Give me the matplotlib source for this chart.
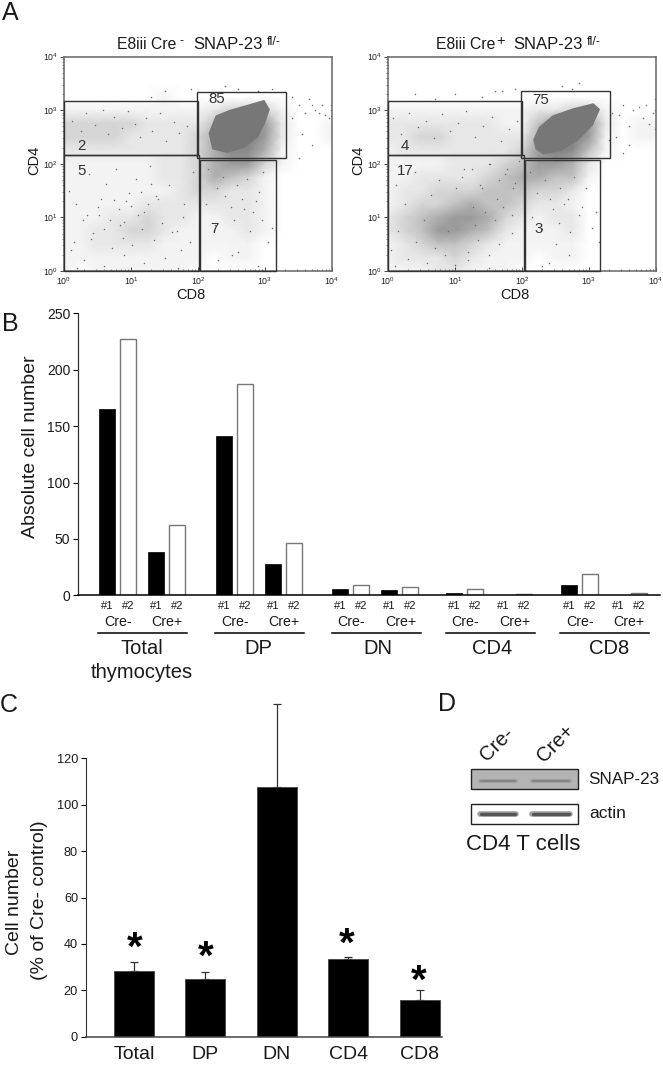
import numpy as np
import matplotlib
matplotlib.use("Agg")
import matplotlib.pyplot as plt
from matplotlib.colors import LinearSegmentedColormap
from matplotlib.patches import Rectangle, Polygon
from matplotlib.ticker import LogLocator, NullFormatter, LogFormatterMathtext

plt.rcParams['font.family'] = ['Liberation Sans', 'DejaVu Sans']
plt.rcParams['mathtext.fontset'] = 'custom'
plt.rcParams['mathtext.rm'] = 'Liberation Sans'
plt.rcParams['mathtext.default'] = 'rm'

W, H = 663, 1065

# ---------- Panel B values ----------
groups_b = ["Total\nthymocytes", "DP", "DN", "CD4", "CD8"]
mice = ["#1", "#2", "#1", "#2"]
cre = ["Cre-", "Cre+"]
total_vals = [165, 227, 38, 62]
dp_vals = [141, 187, 28, 46]
dn_vals = [6, 9, 5, 7]
cd4_vals = [2, 6, 0, 1]
cd8_vals = [9, 19, 0, 2]
yticks_b = [0, 50, 100, 150, 200, 250]

# ---------- Panel C values ----------
cats_c = ["Total", "DP", "DN", "CD4", "CD8"]
pct_vals = [28.5, 25, 107.5, 33.5, 16]
pct_err_top = [32, 28, 143.5, 34.5, 20]
yticks_c = [0, 20, 40, 60, 80, 100, 120]

# ---------- Panel A: estimated event density (0-9), decades of CD8 in columns
# 0..4 by 0.25, decades of CD4 in rows from 3.5 down to 0 by 0.25 ----------
density_minus = [
    [0,0,0,0,0,0,0,0,0,0,0,0,0,0,0,0,0],
    [0,0,0,0,0,0,1,0,0,0,0,0,0,0,0,0,0],
    [1,1,1,1,1,1,1,1,1,2,3,3,3,1,0,0,0],
    [3,3,3,3,3,2,2,2,2,4,6,7,6,2,0,0,1],
    [3,3,3,3,2,2,2,2,3,5,7,8,6,2,0,0,1],
    [2,2,2,2,2,2,2,2,3,5,7,7,5,1,0,0,0],
    [1,1,1,1,1,1,2,2,3,5,6,6,3,1,0,0,0],
    [1,1,1,1,1,1,2,2,3,5,4,3,1,0,0,0,0],
    [1,1,1,1,1,1,1,2,3,3,2,2,1,0,0,0,0],
    [1,1,1,1,1,2,2,2,2,2,2,2,1,0,0,0,0],
    [1,1,1,2,2,3,2,2,1,1,2,2,1,0,0,0,0],
    [1,1,2,2,3,3,2,1,1,1,1,2,1,0,0,0,0],
    [1,1,2,2,2,2,1,1,1,1,1,1,0,0,0,0,0],
    [1,1,1,1,1,1,1,1,1,0,1,1,0,0,0,0,0],
    [1,0,1,1,1,1,1,1,0,0,0,0,0,0,0,0,0],
]
density_plus = [
    [0,0,0,0,0,0,0,0,0,0,0,0,0,0,0,0,0],
    [0,0,0,0,0,0,0,0,0,0,0,0,0,0,0,0,0],
    [1,1,1,1,1,1,1,1,1,2,2,3,3,1,0,0,0],
    [2,2,2,2,2,2,2,1,1,4,6,7,6,2,0,1,1],
    [2,2,3,3,2,2,2,2,2,5,7,8,6,1,0,1,1],
    [1,2,2,2,2,2,2,2,3,6,8,7,4,1,0,0,0],
    [1,1,1,1,2,2,2,3,4,6,6,5,2,0,0,0,0],
    [1,1,2,2,2,2,3,4,5,5,4,4,1,0,0,0,0],
    [1,2,2,3,3,3,4,4,4,3,3,2,0,0,0,0,0],
    [1,2,3,3,4,5,4,4,3,2,2,1,0,0,0,0,0],
    [2,3,4,5,6,6,5,3,2,1,2,2,0,0,0,0,0],
    [2,3,4,6,6,5,4,2,1,1,1,2,0,0,0,0,0],
    [1,2,3,4,4,3,2,1,1,1,1,1,0,0,0,0,0],
    [1,2,2,2,3,2,1,1,1,0,1,1,0,0,0,0,0],
    [1,1,1,2,2,1,1,1,0,0,0,0,0,0,0,0,0],
]
dp_cloud_minus_x = [2.18, 2.28, 2.48, 2.73, 2.98, 3.05, 2.98, 2.88, 2.68, 2.43, 2.23]
dp_cloud_minus_y = [2.57, 2.88, 2.98, 3.07, 3.16, 3.01, 2.76, 2.51, 2.32, 2.23, 2.29]
dp_cloud_plus_x = [2.19, 2.27, 2.47, 2.77, 3.06, 3.14, 3.04, 2.82, 2.57, 2.32, 2.22]
dp_cloud_plus_y = [2.45, 2.67, 2.88, 3.01, 3.10, 3.01, 2.73, 2.45, 2.26, 2.20, 2.29]

# Individually visible events (decades of CD8, CD4)
sparse_minus_x = [3.4,3.5,3.6,3.65,3.7,3.75,3.8,3.85,3.9,3.95,3.98,3.98,3.5,3.7,3.55,3.4,1.5,1.9,1.3,2.2,2.6,2.9,3.1,2.4,0.3,0.6,0.1,1.2,1.5,1.7,2.3,2.6,2.9,0.2,0.9,0.4,1.75,2.5,3.05,3.1,
    0.12,0.25,0.33,0.47,0.58,0.66,0.74,0.86,0.95,1.06,1.13,1.22,1.31,1.43,1.52,1.64,1.72,1.83,
    0.08,0.18,0.37,0.52,0.63,0.77,0.83,0.97,1.08,1.19,1.28,1.41,1.56,1.68,1.79,1.92,
    0.15,0.28,0.44,0.55,0.71,0.88,1.02,1.16,1.35,1.47,1.61,1.77,1.88,
    2.15,2.28,2.37,2.49,2.58,2.66,2.73,2.82,2.91,2.97,2.12,2.25,2.41,2.54,2.69,2.78,2.87,2.95,
    0.35,0.5,0.68,0.82,0.93,1.1,1.25,1.38,0.6,0.75,0.9,1.0,1.15,1.3]
sparse_minus_y = [3.25,3.1,2.95,3.2,3.1,3.0,2.95,3.1,2.9,2.85,3.0,3.1,2.1,2.35,2.55,2.85,3.35,3.4,3.25,3.3,3.4,3.35,3.4,3.45,0.2,0.1,0.4,0.15,0.25,0.05,0.2,0.35,0.1,0.05,0.3,0.6,0.4,0.3,0.55,0.8,
    2.8,2.62,2.95,2.72,3.0,2.55,2.88,2.66,2.98,2.74,2.5,2.85,2.62,2.95,2.42,2.78,2.58,2.7,
    1.5,1.25,1.8,1.05,1.62,1.9,0.85,1.45,1.72,1.1,1.95,1.35,1.6,0.75,1.25,1.85,
    0.55,0.95,0.7,1.35,0.42,0.62,0.48,0.78,0.58,0.9,0.72,1.0,0.55,
    1.9,1.55,1.75,1.2,1.6,1.35,1.72,1.1,1.48,1.85,1.25,0.85,1.4,0.95,1.15,0.75,1.3,0.95,
    1.05,1.2,0.95,1.15,1.3,1.05,1.25,1.4,0.78,1.32,0.92,1.22,1.48,1.62]
sparse_plus_x = [3.45,3.5,3.6,3.65,3.75,3.8,3.85,3.9,3.95,3.98,3.98,3.4,3.5,3.6,3.3,3.35,1.0,1.6,1.9,2.2,2.6,2.75,2.85,0.4,0.7,1.4,1.7,2.4,2.7,3.05,3.15,3.1,2.5,2.3,1.5,1.2,0.1,3.98,
    0.08,0.2,0.32,0.45,0.57,0.68,0.8,0.93,1.05,1.17,1.3,1.42,1.55,1.68,1.8,1.93,
    0.12,0.26,0.4,0.53,0.64,0.76,0.89,1.01,1.14,1.27,1.38,1.5,1.63,1.75,1.87,
    0.05,0.15,0.3,0.42,0.58,0.7,0.85,1.0,1.2,1.35,1.5,1.65,1.85,
    2.12,2.22,2.35,2.46,2.57,2.68,2.78,2.9,2.15,2.3,2.42,2.55,2.62,2.72,2.85,2.95,
    1.1,1.25,1.4,1.52,1.66,1.78,1.9,1.95,1.3,1.45,1.6,1.72,1.85]
sparse_plus_y = [2.9,3.1,2.7,3.0,3.05,2.85,3.1,2.75,2.95,3.2,2.65,2.5,2.2,2.35,2.45,2.95,3.3,3.35,3.4,3.3,3.45,3.4,3.5,3.3,3.2,3.25,3.35,0.15,0.3,0.8,0.55,1.1,0.5,0.1,0.05,0.2,0.1,3.0,
    2.85,2.55,2.95,2.68,2.8,2.48,2.92,2.62,2.76,2.98,2.5,2.7,2.88,2.42,2.65,2.8,
    1.6,1.25,1.85,0.95,1.42,1.7,0.75,1.55,1.9,1.2,1.6,2.0,1.35,1.8,1.55,
    0.4,0.75,0.22,0.55,0.15,0.42,0.3,0.12,0.35,0.58,0.3,0.5,0.7,
    1.85,1.45,1.7,1.15,1.55,1.35,1.75,1.2,1.0,0.78,1.35,0.9,1.25,0.72,1.05,1.55,
    1.75,1.9,1.55,2.0,1.7,1.9,1.65,2.05,0.85,1.1,0.95,1.2,1.05]

gates_minus = {"cd4": (1, 100, 146, 1450), "dp": (98, 2050, 128, 2200),
               "dn": (1, 102, 1, 146), "cd8": (108, 1450, 1, 118)}
gates_plus = {"cd4": (1, 100, 146, 1450), "dp": (98, 2050, 128, 2250),
              "dn": (1, 108, 1, 146), "cd8": (112, 1450, 1, 118)}
labels_minus = [("85", 141, 1580), ("2", 1.6, 217), ("5", 1.6, 74), ("7", 151, 6.1)]
labels_plus = [("75", 141, 1540), ("4", 1.56, 217), ("17", 1.37, 74), ("3", 151, 6.1)]


def add_axes_px(left, top, right, bottom):
    return fig.add_axes([left / W, 1 - bottom / H, (right - left) / W, (bottom - top) / H])


def txt(x, y, s, **kw):
    kw.setdefault('ha', 'center')
    kw.setdefault('va', 'center')
    kw.setdefault('color', '#1a1a1a')
    fig.text(x / W, 1 - y / H, s, **kw)


fig = plt.figure(figsize=(W / 100, H / 100), dpi=100, facecolor='white')

cmap = LinearSegmentedColormap.from_list("flow", ["#ffffff", "#e4e4e4", "#b8b8b8", "#8c8c8c", "#777777"], N=256)


def flow_panel(left, density, cx, cy, sx, sy, gates, labels):
    ax = add_axes_px(left, 56.5, left + 268, 271)
    ax.set_xscale('log')
    ax.set_yscale('log')
    nodes_x = 10.0 ** np.arange(0, 4.01, 0.25)
    nodes_y = 10.0 ** np.arange(3.5, -0.01, -0.25)
    ax.pcolormesh(nodes_x, nodes_y, np.array(density) / 9.0, shading='gouraud',
                  cmap=cmap, vmin=0, vmax=1, rasterized=True, zorder=1)
    ax.add_patch(Polygon(np.column_stack([10.0 ** np.array(cx), 10.0 ** np.array(cy)]),
                         closed=True, fc='#777777', ec='#777777', lw=2, zorder=2))
    ax.scatter(10.0 ** np.array(sx), 10.0 ** np.array(sy), s=1.2, c='#707070', lw=0, zorder=3)
    ax.set_xlim(1, 1e4)
    ax.set_ylim(1, 1e4)
    for g in gates.values():
        x0, x1, y0, y1 = g
        ax.add_patch(Rectangle((x0, y0), x1 - x0, y1 - y0, fill=False, ec='#333333', lw=1.0, zorder=4, clip_on=False))
    for s, x, y in labels:
        ax.text(x, y, s, fontsize=10.8, color='#333333', ha='left', va='center', zorder=5)
    for sp in ax.spines.values():
        sp.set_color('#666666')
        sp.set_linewidth(1.1)
    for axis in (ax.xaxis, ax.yaxis):
        axis.set_major_locator(LogLocator(base=10, numticks=6))
        axis.set_minor_locator(LogLocator(base=10, subs=np.arange(2, 10) * 0.1, numticks=6))
        axis.set_major_formatter(LogFormatterMathtext())
        axis.set_minor_formatter(NullFormatter())
    ax.tick_params(axis='both', which='major', labelsize=6.3, length=3, width=0.7, color='#444444', labelcolor='#222222')
    ax.tick_params(axis='both', which='minor', length=1.6, width=0.5, color='#444444')
    ax.tick_params(axis='x', which='both', direction='in', top=False, pad=3)
    ax.tick_params(axis='y', which='both', direction='out', right=False, pad=1.5)
    return ax


flow_panel(64, density_minus, dp_cloud_minus_x, dp_cloud_minus_y, sparse_minus_x, sparse_minus_y, gates_minus, labels_minus)
flow_panel(388, density_plus, dp_cloud_plus_x, dp_cloud_plus_y, sparse_plus_x, sparse_plus_y, gates_plus, labels_plus)

# Titles assembled from pieces so the superscripts keep a hyphen
for x, y, s, size in [(117, 49, 'E8iii Cre', 11.3), (180, 44, '-', 9), (193, 49, 'SNAP-23', 12), (267, 45, 'fl/-', 9),
                      (436, 49, 'E8iii Cre', 11.3), (496, 45, '+', 10.5), (513, 49, 'SNAP-23', 12), (587, 45, 'fl/-', 9)]:
    txt(x, y, s, fontsize=size, ha='left', va='baseline')
txt(191, 295, 'CD8', fontsize=10.5)
txt(515, 295, 'CD8', fontsize=10.5)
txt(34, 160, 'CD4', fontsize=10.5, rotation=90)
txt(358, 160, 'CD4', fontsize=10.5, rotation=90)

# Panel letters
txt(10, 13, 'A', fontsize=18)
txt(10, 324, 'B', fontsize=18)
txt(9, 705, 'C', fontsize=18)
txt(447, 704, 'D', fontsize=18)

# ---------- Panel B ----------
axb = add_axes_px(78, 313.3, 660, 595.3)
group_starts = [99.3, 216, 332.5, 446.5, 561]
bar_offsets = [7.8, 28.8, 56.8, 77.8]
bar_w = 15.7
all_vals = [total_vals, dp_vals, dn_vals, cd4_vals, cd8_vals]
axb.set_xlim(78, 660)
axb.set_ylim(0, 250)
for gs, vals in zip(group_starts, all_vals):
    for i, (off, v) in enumerate(zip(bar_offsets, vals)):
        if i % 2 == 0:
            axb.bar(gs + off, v, bar_w, color='black', edgecolor='black', lw=0.5)
        else:
            axb.bar(gs + off, v, bar_w, color='white', edgecolor='#777777', lw=1.0)
for sp in ('top', 'right'):
    axb.spines[sp].set_visible(False)
axb.spines['left'].set_color('#333333')
axb.spines['bottom'].set_color('black')
axb.spines['bottom'].set_linewidth(1.1)
axb.spines['left'].set_linewidth(0.9)
axb.set_xticks([])
axb.set_yticks(yticks_b)
axb.tick_params(axis='y', labelsize=10, length=3.5, width=0.8, pad=2, labelcolor='#1a1a1a')
txt(31, 447, 'Absolute cell number', fontsize=14, rotation=90)

label_centres = [141.6, 258.5, 378, 491.8, 609]
for gs, lab, lc in zip(group_starts, groups_b, label_centres):
    for off, m in zip(bar_offsets, mice):
        txt(gs + off, 605.7, m, fontsize=8)
    txt(gs + 19, 621.7, cre[0], fontsize=10.2)
    txt(gs + 68, 621.7, cre[1], fontsize=10.2)
    fig.add_artist(plt.Line2D([(gs - 1) / W, (gs + 88) / W], [1 - 633.3 / H] * 2, color='black', lw=1.1))
    parts = lab.split("\n")
    txt(lc, 648, parts[0], fontsize=14.5)
    if len(parts) > 1:
        txt(lc, 672.7, parts[1], fontsize=14.5)

# ---------- Panel C ----------
axc = add_axes_px(85.7, 758.3, 442, 1036.7)
x_c = np.arange(len(cats_c))
unit = 71.4
axc.set_xlim((85.7 - 134) / unit, (442 - 134) / unit)
axc.set_ylim(0, 120)
axc.bar(x_c, pct_vals, 40 / unit, color='black', edgecolor='#444444', lw=0.6, zorder=2)
upper = np.array(pct_err_top) - np.array(pct_vals)
eb = axc.errorbar(x_c, pct_vals, yerr=[np.zeros(len(upper)), upper], fmt='none', ecolor='#333333',
                  elinewidth=0.9, capsize=3, capthick=0.9, zorder=1)
for art in list(eb[1]) + list(eb[2]):
    art.set_clip_on(False)
for sp in ('top', 'right'):
    axc.spines[sp].set_visible(False)
axc.spines['left'].set_color('#333333')
axc.spines['bottom'].set_color('#444444')
axc.spines['bottom'].set_linewidth(1.1)
axc.set_yticks(yticks_c)
axc.set_xticks(x_c)
axc.set_xticklabels(cats_c)
axc.tick_params(axis='x', length=0, labelsize=14, pad=6.5, labelcolor='#1a1a1a')
axc.tick_params(axis='y', length=3.5, width=0.8, labelsize=9.2, pad=2, labelcolor='#1a1a1a')
for sx_, sy_ in [(135, 940), (206, 949), (347, 936), (419, 973)]:
    txt(sx_, sy_ + 9, '*', fontsize=29, color='black', fontweight='bold')
txt(15, 902, 'Cell number', fontsize=14, rotation=90)
txt(40, 900, '(% of Cre- control)', fontsize=14, rotation=90)

# ---------- Panel D (blot) ----------
axd = add_axes_px(0, 0, W, H)
axd.set_xlim(0, W)
axd.set_ylim(H, 0)
axd.axis('off')
axd.patch.set_alpha(0)
axd.add_patch(Rectangle((470.7, 769), 107, 20, fc='#b4b4b4', ec='#222222', lw=1))
axd.add_patch(Rectangle((470.7, 804), 107, 20, fc='white', ec='#222222', lw=1))
for x0, x1 in [(480, 516), (532, 570)]:
    axd.plot([x0, x1], [781, 781], color='#a0a0a0', lw=3, solid_capstyle='round')
    axd.plot([x0 + 1, x1 - 1], [781, 781], color='#848484', lw=1.4, solid_capstyle='round')
    axd.plot([x0, x1], [814, 814], color='#a0a0a0', lw=4, solid_capstyle='round')
    axd.plot([x0 + 1, x1 - 1], [814, 814], color='#555555', lw=2.4, solid_capstyle='round')
txt(497, 744, 'Cre-', fontsize=14.5, rotation=45)
txt(556, 743, 'Cre+', fontsize=14.5, rotation=45)
txt(588, 780, 'SNAP-23', fontsize=12.3, ha='left')
txt(589, 813, 'actin', fontsize=12.5, ha='left')
txt(466, 844, 'CD4 T cells', fontsize=16, ha='left')

fig.savefig('out.png', dpi=100)
